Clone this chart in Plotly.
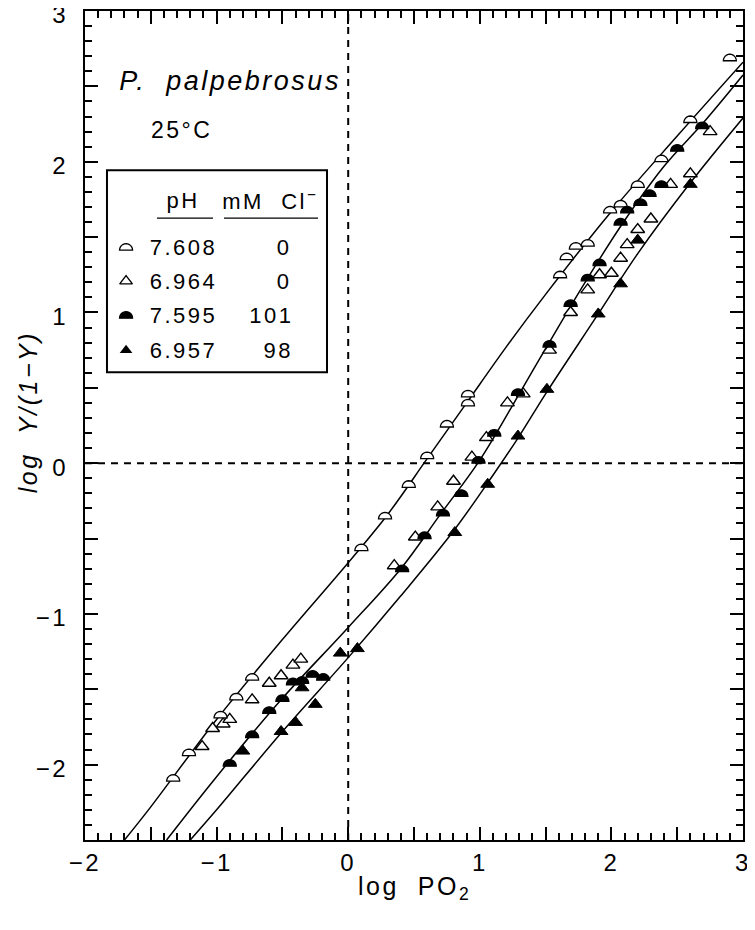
import numpy as np
import plotly.graph_objects as go

# open half circles: pH 7.608, 0 mM Cl-
a_x = [-1.33, -1.21, -0.97, -0.85, -0.73, 0.10, 0.28, 0.46, 0.60, 0.75, 0.91, 0.91,
       1.61, 1.66, 1.73, 1.82, 1.99, 2.07, 2.20, 2.38, 2.60, 2.90]
a_y = [-2.09, -1.92, -1.67, -1.55, -1.42, -0.56, -0.35, -0.14, 0.05, 0.26, 0.40, 0.46,
       1.25, 1.37, 1.44, 1.46, 1.68, 1.72, 1.85, 2.02, 2.28, 2.69]

# open triangles: pH 6.964, 0 mM Cl-
b_x = [-1.11, -1.03, -0.95, -0.90, -0.73, -0.60, -0.51, -0.42, -0.36,
       0.35, 0.51, 0.68, 0.80, 0.94, 1.05, 1.21, 1.33,
       1.53, 1.69, 1.82, 1.91, 2.00, 2.07, 2.12, 2.20, 2.30, 2.45, 2.60, 2.75]
b_y = [-1.88, -1.76, -1.73, -1.70, -1.57, -1.46, -1.41, -1.34, -1.30,
       -0.68, -0.49, -0.29, -0.12, 0.04, 0.17, 0.40, 0.46,
       0.75, 1.00, 1.15, 1.25, 1.26, 1.36, 1.45, 1.55, 1.62, 1.85, 1.92, 2.20]

# filled half circles: pH 7.595, 101 mM Cl-
c_x = [-0.90, -0.73, -0.60, -0.50, -0.42, -0.35, -0.27, -0.19,
       0.41, 0.58, 0.72, 0.86, 0.99, 1.11, 1.29, 1.53, 1.69, 1.82, 1.91,
       2.07, 2.12, 2.22, 2.29, 2.38, 2.50, 2.69]
c_y = [-1.99, -1.80, -1.64, -1.56, -1.45, -1.44, -1.40, -1.42,
       -0.70, -0.48, -0.33, -0.20, 0.02, 0.20, 0.47, 0.79, 1.06, 1.23, 1.33,
       1.60, 1.68, 1.73, 1.79, 1.85, 2.09, 2.24]

# filled triangles: pH 6.957, 98 mM Cl-
d_x = [-0.80, -0.51, -0.40, -0.35, -0.25, -0.06, 0.07,
       0.81, 1.06, 1.29, 1.51, 1.90, 2.07, 2.20, 2.60]
d_y = [-1.91, -1.78, -1.72, -1.49, -1.60, -1.26, -1.23,
       -0.46, -0.14, 0.18, 0.49, 0.99, 1.19, 1.48, 1.85]

# fitted curves
fit1_x = [-1.70, -1.5, -1.0, -0.5, 0.0, 0.3, 0.6, 0.9, 1.2, 1.5, 2.0, 2.5, 3.0]
fit1_y = [-2.5, -2.28, -1.70, -1.17, -0.66, -0.34, 0.03, 0.40, 0.77, 1.12, 1.67, 2.17, 2.66]
fit2_x = [-1.38, -1.0, -0.5, 0.0, 0.4, 0.7, 1.0, 1.3, 1.5, 1.8, 2.1, 2.4, 2.7, 3.0]
fit2_y = [-2.5, -2.08, -1.56, -1.09, -0.70, -0.34, 0.02, 0.46, 0.76, 1.20, 1.61, 1.97, 2.26, 2.575]
fit3_x = [-1.20, -1.0, -0.5, 0.0, 0.4, 0.8, 1.1, 1.3, 1.5, 1.9, 2.2, 2.6, 3.0]
fit3_y = [-2.5, -2.30, -1.78, -1.29, -0.88, -0.45, -0.08, 0.18, 0.46, 0.99, 1.39, 1.86, 2.29]

legend_ph = ["7.608", "6.964", "7.595", "6.957"]
legend_cl = ["0", "0", "101", "98"]

x_ticks = [-2, -1, 0, 1, 2, 3]
y_ticks = [-2, -1, 0, 1, 2, 3]

FONT = "Liberation Sans, Arial, sans-serif"


def half_disc(x, y, filled):
    r = 6.5
    t = np.linspace(0, np.pi, 13)
    pts = ["M %.2f,-3" % r]
    for a in t[1:]:
        pts.append("L %.2f,%.2f" % (r * np.cos(a), r * np.sin(a) - 3))
    path = " ".join(pts) + " Z"
    return dict(type="path", xref="x", yref="y", xsizemode="pixel", ysizemode="pixel",
                xanchor=x, yanchor=y, path=path,
                fillcolor="black" if filled else "white",
                line=dict(color="black", width=1.3), layer="above")


fig = go.Figure()

for fx, fy in [(fit1_x, fit1_y), (fit2_x, fit2_y), (fit3_x, fit3_y)]:
    fig.add_trace(go.Scatter(x=fx, y=fy, mode="lines", line_shape="spline",
                             line=dict(color="black", width=1.5), showlegend=False,
                             hoverinfo="skip"))

fig.add_trace(go.Scatter(x=b_x, y=b_y, mode="markers", showlegend=False,
                         marker=dict(symbol="triangle-up", size=12, color="white",
                                     line=dict(color="black", width=1.4))))
fig.add_trace(go.Scatter(x=d_x, y=d_y, mode="markers", showlegend=False,
                         marker=dict(symbol="triangle-up", size=12, color="black",
                                     line=dict(color="black", width=1))))

shapes = []
# dashed zero lines
shapes.append(dict(type="line", xref="x", yref="y", x0=0, x1=0, y0=-2.5, y1=3,
                   line=dict(color="black", width=2, dash="7px,6px"), layer="below"))
shapes.append(dict(type="line", xref="x", yref="y", x0=-2, x1=3, y0=0, y1=0,
                   line=dict(color="black", width=2, dash="7px,6px"), layer="below"))

for x, y in zip(a_x, a_y):
    shapes.append(half_disc(x, y, False))
for x, y in zip(c_x, c_y):
    shapes.append(half_disc(x, y, True))

# legend box (below traces so the legend triangles show)
shapes.append(dict(type="rect", xref="x", yref="y", x0=-1.833, x1=-0.161, y0=0.604, y1=1.944,
                   line=dict(color="black", width=2), fillcolor="white", layer="below"))
shapes.append(dict(type="line", xref="x", yref="y", x0=-1.453, x1=-1.027, y0=1.626, y1=1.626,
                   line=dict(color="black", width=1.3), layer="above"))
shapes.append(dict(type="line", xref="x", yref="y", x0=-0.944, x1=-0.229, y0=1.626, y1=1.626,
                   line=dict(color="black", width=1.3), layer="above"))

row_y = [1.433, 1.208, 0.982, 0.750]
mark_x = -1.688
shapes.append(half_disc(mark_x, row_y[0], False))
shapes.append(half_disc(mark_x, row_y[2], True))

fig.add_trace(go.Scatter(x=[mark_x], y=[row_y[1]], mode="markers", showlegend=False,
                         marker=dict(symbol="triangle-up", size=11, color="white",
                                     line=dict(color="black", width=1.4))))
fig.add_trace(go.Scatter(x=[mark_x], y=[row_y[3]], mode="markers", showlegend=False,
                         marker=dict(symbol="triangle-up", size=11, color="black")))

ann = []
ann.append(dict(x=-1.255, y=1.745, text="pH", showarrow=False, xref="x", yref="y",
                font=dict(size=22, family=FONT, color="black")))
ann.append(dict(x=-0.594, y=1.745, text="mM  Cl<sup>−</sup>", showarrow=False, xref="x", yref="y",
                font=dict(size=22, family=FONT, color="black")))
for ph, cl, yy in zip(legend_ph, legend_cl, row_y):
    ann.append(dict(x=-1.255, y=yy, text=ph, showarrow=False, xref="x", yref="y",
                    font=dict(size=22, family=FONT, color="black")))
    ann.append(dict(x=-0.427, y=yy, text=cl, showarrow=False, xref="x", yref="y",
                    xanchor="right", font=dict(size=22, family=FONT, color="black")))

ann.append(dict(x=-0.898, y=2.535, text="<i>P.  palpebrosus</i>", showarrow=False,
                xref="x", yref="y", font=dict(size=27, family=FONT, color="black")))
ann.append(dict(x=-1.263, y=2.21, text="25°C", showarrow=False,
                xref="x", yref="y", font=dict(size=23, family=FONT, color="black")))

ann.append(dict(x=0.5, y=-0.058, xref="paper", yref="paper", text="log  PO<sub>2</sub>",
                showarrow=False, yanchor="middle", font=dict(size=25, family=FONT, color="black")))
ann.append(dict(x=-0.111, y=0.516, xref="paper", yref="paper", text="<i>log  Y/(1−Y)</i>",
                showarrow=False, textangle=-90, font=dict(size=25, family=FONT, color="black")))

fig.update_layout(shapes=shapes, annotations=ann)


def tick_setup(lo, hi, labels):
    vals = list(np.arange(lo, hi + 0.01, 0.5))
    text = [("−%g" % -v if v < 0 else "%g" % v) if v in labels else "" for v in vals]
    return vals, text


xv, xt = tick_setup(-2, 3, x_ticks)
yv, yt = tick_setup(-2.5, 3, y_ticks)

axis_common = dict(showline=True, linecolor="black", linewidth=2, mirror="ticks",
                   ticks="inside", ticklen=13, tickwidth=1.5, tickcolor="black",
                   showgrid=False, zeroline=False, automargin=False,
                   ticklabeloverflow="allow",
                   tickfont=dict(size=24, family=FONT, color="black"),
                   minor=dict(dtick=0.1, tick0=0, ticks="inside", ticklen=7,
                              tickwidth=1.5, tickcolor="black", showgrid=False))

fig.update_xaxes(range=[-2, 3], tickmode="array", tickvals=xv, ticktext=xt, **axis_common)
fig.update_yaxes(range=[-2.5, 3], tickmode="array", tickvals=yv, ticktext=yt,
                 ticklabelstandoff=10, ticklabelshift=4, **axis_common)

# page body adds an 8px offset, so the margins are trimmed by that much
fig.update_layout(width=755, height=930, margin=dict(l=77, r=20, t=3, b=98),
                  plot_bgcolor="white", paper_bgcolor="white", showlegend=False)

# the original lettering is set a little wider than Arial
spacing_css = ("var s=document.createElement('style');"
               "s.textContent='.main-svg text{letter-spacing:2.5px}';"
               "document.head.appendChild(s);")
fig.write_html("out.html", post_script=spacing_css)
